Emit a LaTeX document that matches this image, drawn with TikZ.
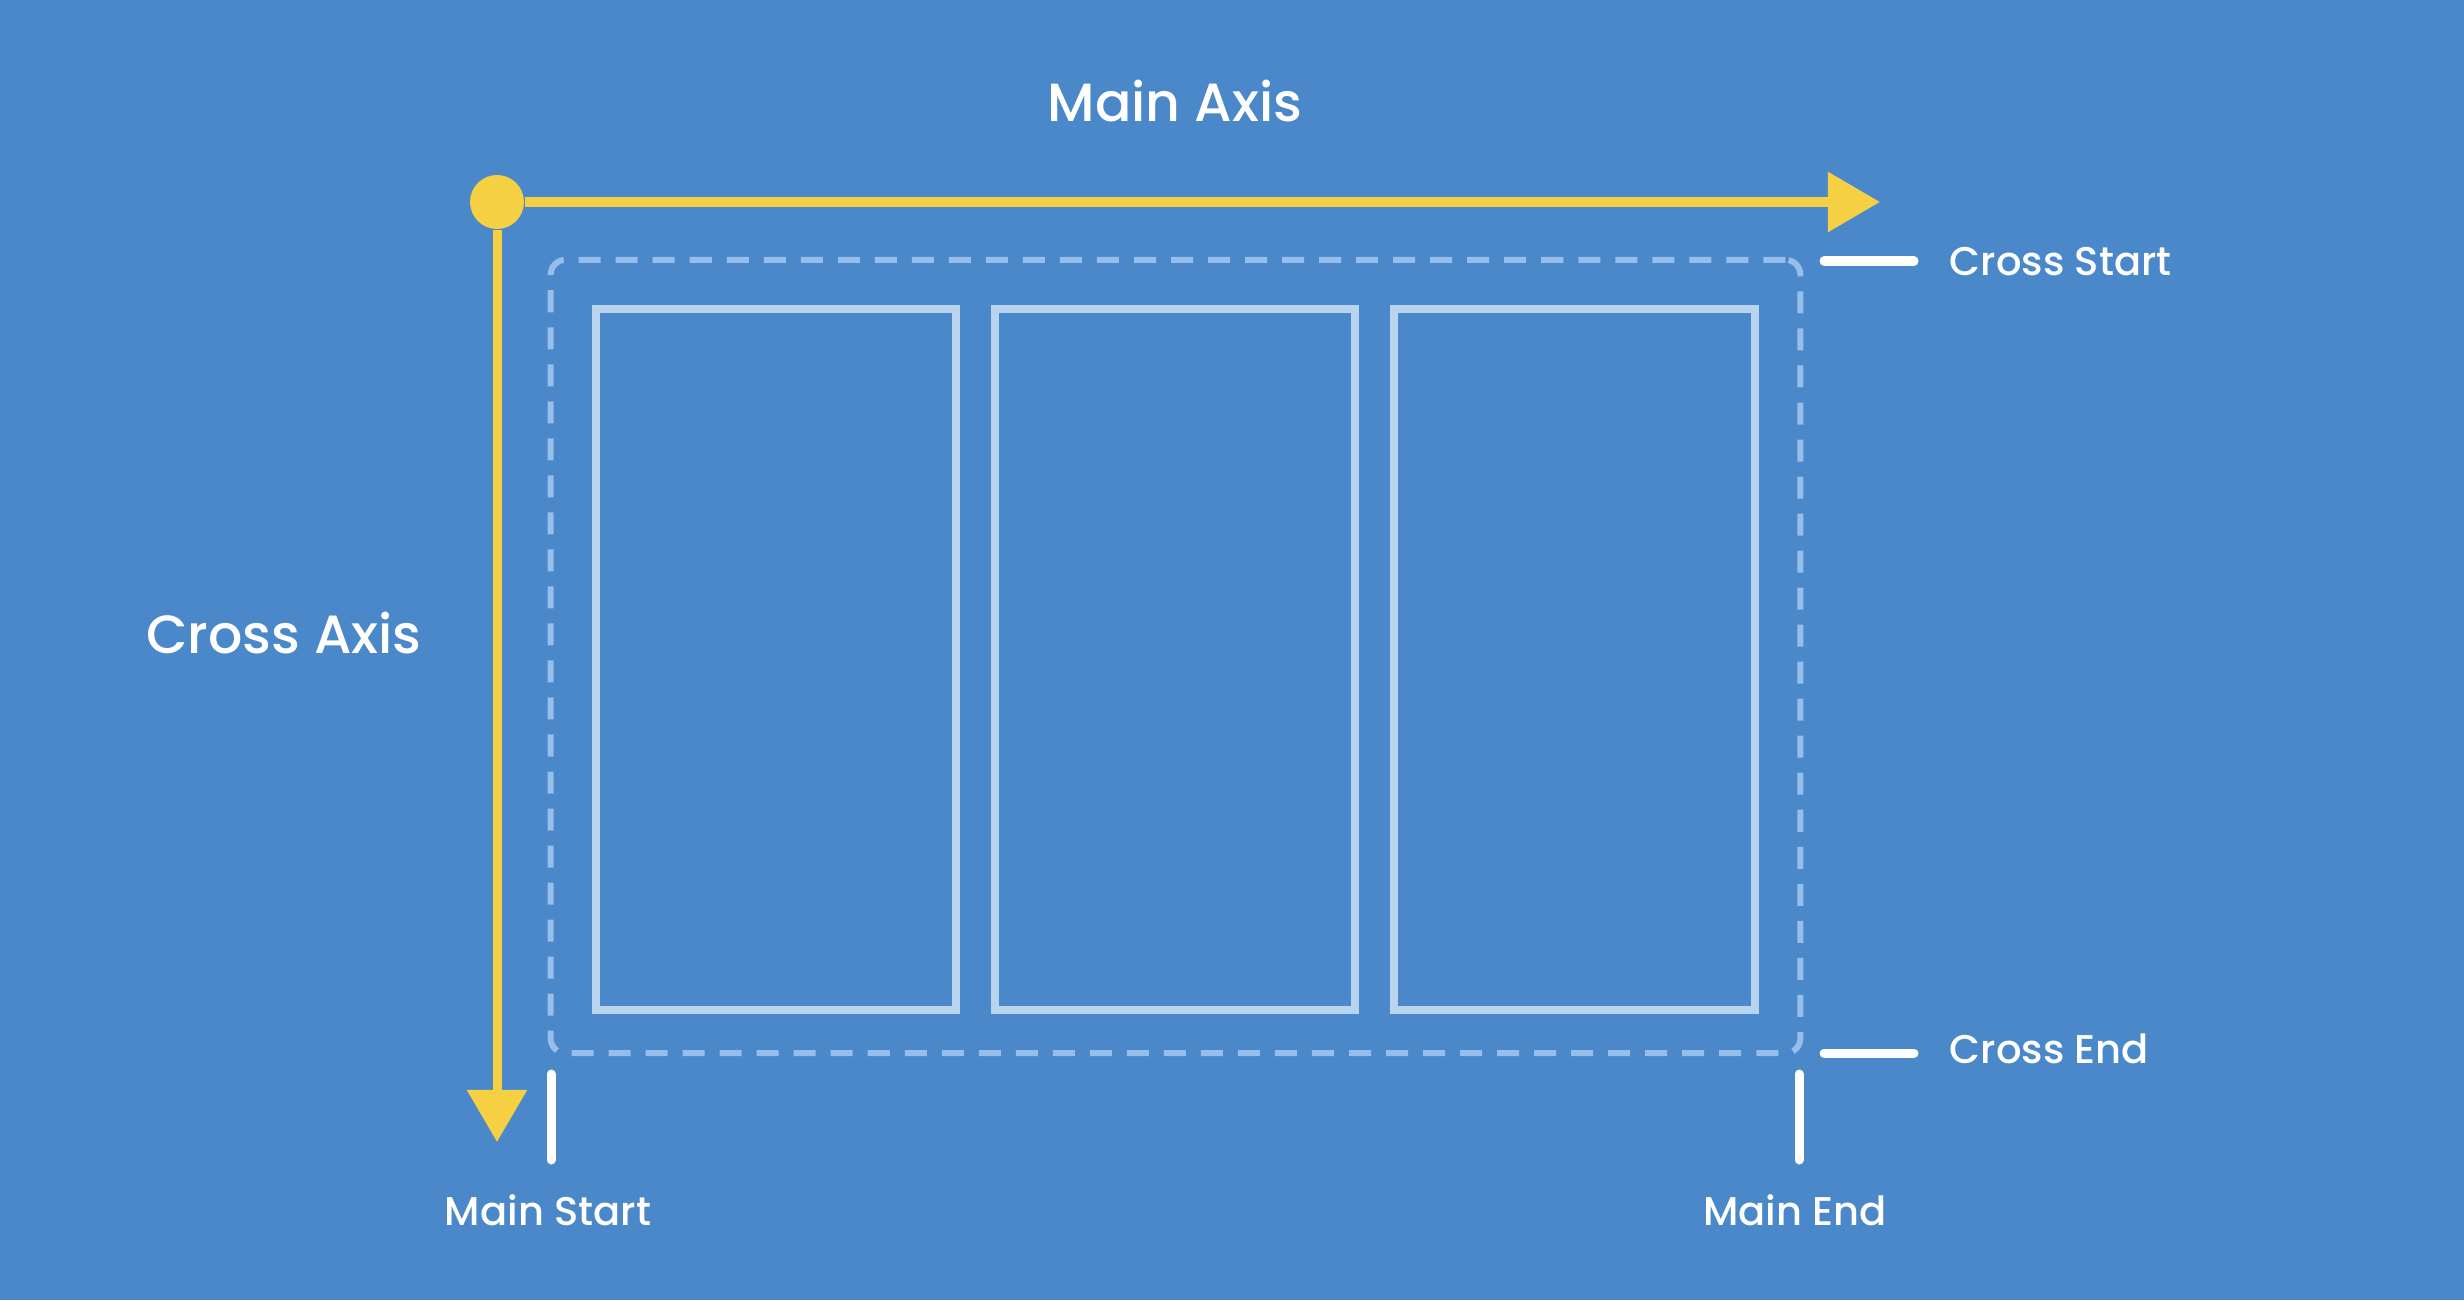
\documentclass[tikz,border=0pt]{standalone}
\usepackage{fontspec}
\setmainfont{Poppins}[BoldFont={Poppins Medium}]
\usetikzlibrary{arrows.meta,positioning}
\definecolor{bgblue}{RGB}{74,136,201}
\definecolor{axisyellow}{RGB}{245,208,66}
\definecolor{itemblue}{RGB}{185,212,238}
\definecolor{dashblue}{RGB}{150,190,234}
\begin{document}
\begin{tikzpicture}[
                x=0.01cm, y=-0.01cm,
                node distance=0.39cm,
                >={Triangle[length=0.52cm,width=0.58cm]},
                axis/.style={draw=axisyellow, line width=0.09cm},
                item/.style={draw=itemblue, line width=0.08cm, minimum width=3.6cm, minimum height=7.01cm, inner sep=0pt, outer sep=0pt},
                tickline/.style={draw=white, line width=0.09cm, line cap=round},
                lbl/.style={text=white, inner sep=0pt, font=\fontsize{11.4}{13}\selectfont\bfseries},
                biglbl/.style={lbl, font=\fontsize{15.3}{18}\selectfont\bfseries}
                ]

                \fill[bgblue] (0,0) rectangle (2464,1300);

                \node [draw=dashblue, line width=0.06cm, dash pattern=on 0.22cm off 0.15cm, rounded corners=0.15cm, minimum width=12.49cm, minimum height=7.93cm, inner sep=0pt, outer sep=0pt] (flexbox) at (1175.5,656.5) {};
                \node [item] (itemA) at (776,659.5) {};
                \node [item, right=of itemA] (itemB) {};
                \node [item, right=of itemB] (itemC) {};

                \node [circle, fill=axisyellow, minimum size=0.54cm, inner sep=0pt] (origin) at (497,202) {};
                \coordinate (mainaxisend) at (1880,202);
                \coordinate (crossaxisend) at (497,1142);
                \draw[axis,->] (origin) -- (mainaxisend);
                \draw[axis,->] (origin) -- (crossaxisend);

                \coordinate (csA) at (1824,261);
                \coordinate (csB) at (1914,261);
                \coordinate (ceA) at (1824,1053);
                \coordinate (ceB) at (1914,1053);
                \coordinate (msA) at (551,1074);
                \coordinate (msB) at (551,1160);
                \coordinate (meA) at (1799,1074);
                \coordinate (meB) at (1799,1160);
                \draw[tickline] (csA) -- (csB);
                \draw[tickline] (ceA) -- (ceB);
                \draw[tickline] (msA) -- (msB);
                \draw[tickline] (meA) -- (meB);

                \node [biglbl, anchor=base] (mainaxis) at (1175,122) {Main Axis};
                \node [biglbl, anchor=base] (crossaxis) at (284,653) {Cross Axis};
                \node [lbl, anchor=base west] (crossstart) at (1949,275) {Cross Start};
                \node [lbl, anchor=base west] (crossend) at (1949,1063) {Cross End};
                \node [lbl, anchor=base] (mainstart) at (548,1225) {Main Start};
                \node [lbl, anchor=base] (mainend) at (1795,1225) {Main End};
            \end{tikzpicture}
\end{document}
